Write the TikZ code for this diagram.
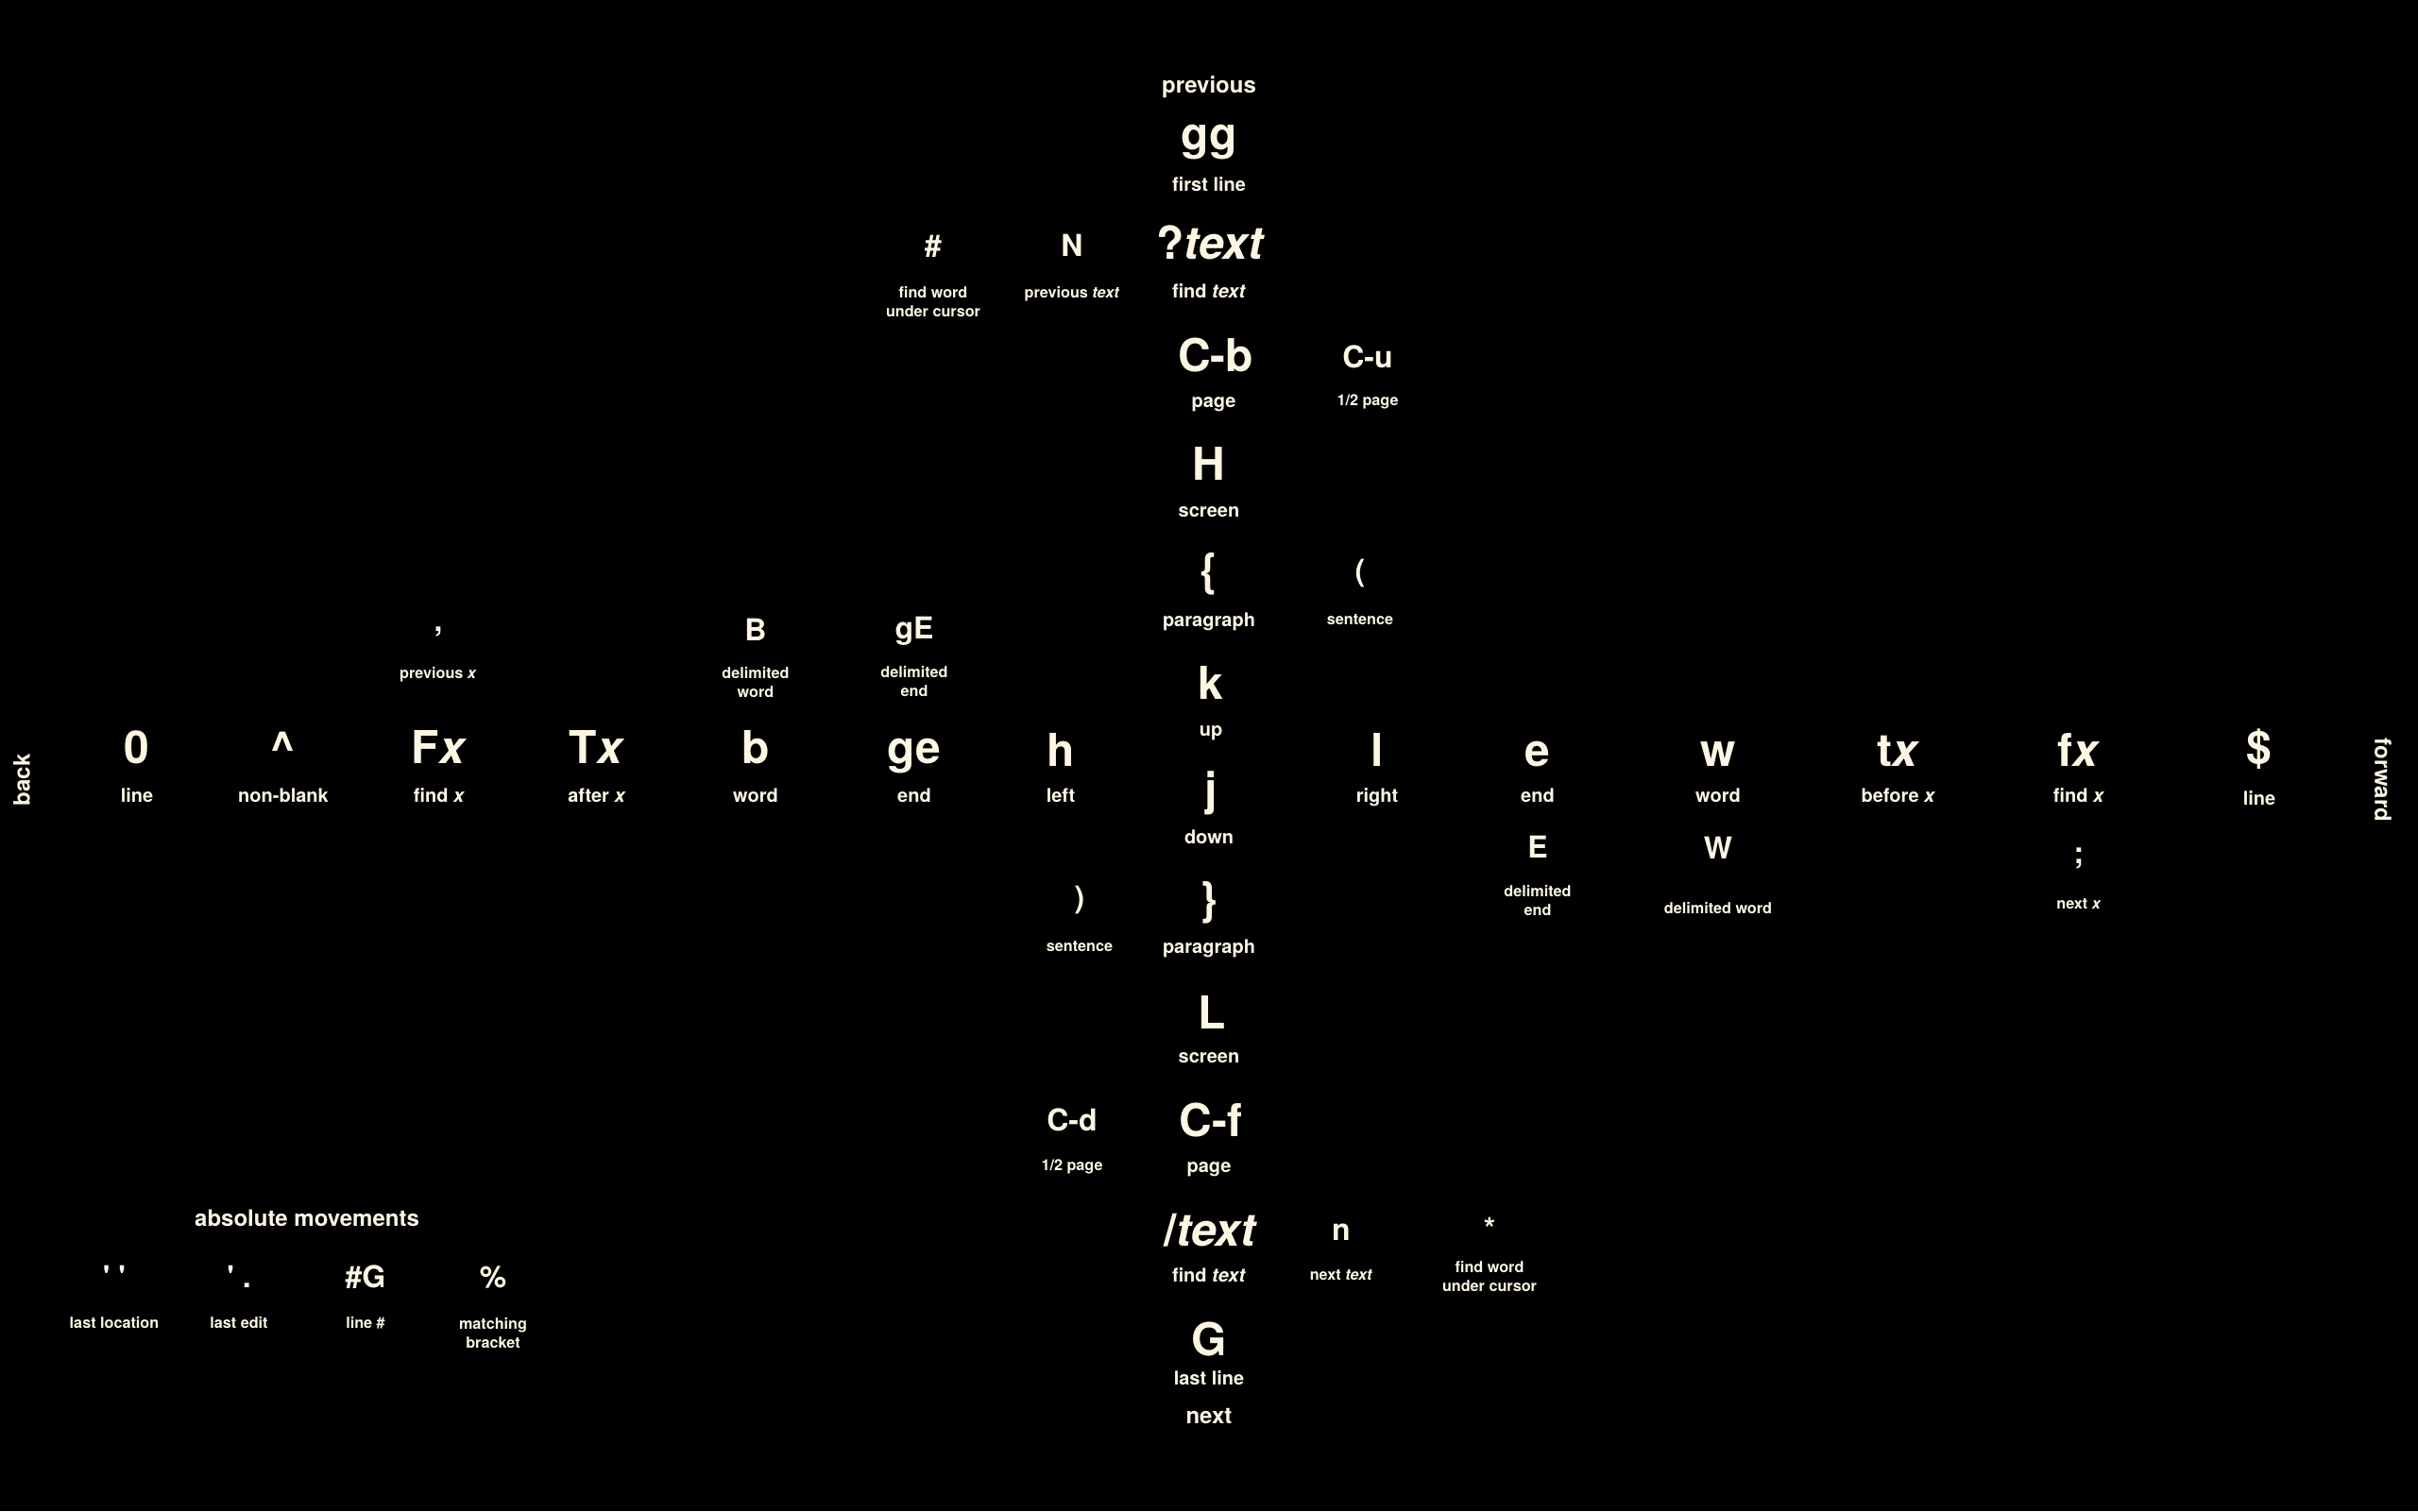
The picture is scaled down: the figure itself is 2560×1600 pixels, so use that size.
\documentclass[tikz,border=0pt]{standalone}
\usepackage{fontspec}
\setmainfont{TeX Gyre Heros}[Ligatures=TeXOff]
\definecolor{cream}{HTML}{FDF6E3}
\begin{document}
\begin{tikzpicture}[x=0.25pt,y=-0.25pt,
  every node/.style={text=cream, inner sep=0pt, anchor=base},
  bigkey/.style={font=\fontsize{12}{14}\selectfont\bfseries},
  medkey/.style={font=\fontsize{8}{10}\selectfont\bfseries},
  head/.style={font=\fontsize{6}{7.5}\selectfont\bfseries},
  lbl/.style={font=\fontsize{5}{6}\selectfont\bfseries},
  slbl/.style={font=\fontsize{4.05}{5}\selectfont\bfseries}]
\fill[black] (0,0) rectangle (2560,1600);
\useasboundingbox (0,0) rectangle (2560,1600);
% centre column
\node[head] (prev) at (1280,98) {previous};
\node[bigkey] (gg) at (1280,158) {gg};
\node[lbl] (ggl) at (1280,202) {first line};
\node[bigkey] (qt) at (1282,274) {?\textit{text}};
\node[lbl] (qtl) at (1280,315) {find \textit{text}};
\node[bigkey] (cb) at (1287,393) {C-b};
\node[lbl] (cbl) at (1285,431) {page};
\node[bigkey] (H) at (1280,508) {H};
\node[lbl] (Hl) at (1280,547) {screen};
\node[bigkey] (lbr) at (1280,620) {\{};
\node[lbl] (lbrl) at (1280,663) {paragraph};
\node[bigkey] (k) at (1282,740) {k};
\node[lbl] (kl) at (1282,779) {up};
\node[bigkey] (j) at (1282,852) {j};
\node[lbl] (jl) at (1280,893) {down};
\node[bigkey] (rbr) at (1280,968) {\}};
\node[lbl] (rbrl) at (1280,1009) {paragraph};
\node[bigkey] (L) at (1283,1089) {L};
\node[lbl] (Ll) at (1280,1125) {screen};
\node[bigkey] (cf) at (1282,1203) {C-f};
\node[lbl] (cfl) at (1280,1241) {page};
\node[bigkey] (sl) at (1282,1319) {/\textit{text}};
\node[lbl] (sll) at (1280,1357) {find \textit{text}};
\node[bigkey] (G) at (1280,1435) {G};
\node[lbl] (Gl) at (1280,1466) {last line};
\node[head] (next) at (1280,1507) {next};
% search / page neighbours
\node[medkey] (hash) at (988,271) {\#};
\node[slbl] (hashl) at (988,315) {find word};
\node[slbl] (hashl2) at (988,335) {under cursor};
\node[medkey] (N) at (1135,271) {N};
\node[slbl] (Nl) at (1135,315) {previous \textit{text}};
\node[medkey] (cu) at (1448,389) {C-u};
\node[slbl] (cul) at (1448,429) {1/2 page};
\node[medkey] (lp) at (1440,615) {(};
\node[slbl] (lpl) at (1440,661) {sentence};
\node[medkey] (rp) at (1143,961) {)};
\node[slbl] (rpl) at (1143,1007) {sentence};
\node[medkey] (cd) at (1135,1197) {C-d};
\node[slbl] (cdl) at (1135,1239) {1/2 page};
\node[medkey] (n) at (1420,1313) {n};
\node[slbl] (nl) at (1420,1355) {next \textit{text}};
\node[medkey] (star) at (1577,1312) {*};
\node[slbl] (starl) at (1577,1347) {find word};
\node[slbl] (starl2) at (1577,1367) {under cursor};
% main row
\node[head, rotate=90, anchor=center] (back) at (23,826) {back};
\node[head, rotate=-90, anchor=center] (fwd) at (2523,826) {forward};
\node[bigkey] (zero) at (145,808) {0};
\node[lbl] (zerol) at (145,849) {line};
\node[bigkey] (caret) at (300,808) {\textasciicircum};
\node[lbl] (caretl) at (300,849) {non-blank};
\node[bigkey] (Fx) at (465,808) {F\textit{x}};
\node[lbl] (Fxl) at (465,849) {find \textit{x}};
\node[medkey] (comma) at (464,668) {,};
\node[slbl] (commal) at (464,718) {previous \textit{x}};
\node[bigkey] (Tx) at (632,808) {T\textit{x}};
\node[lbl] (Txl) at (632,849) {after \textit{x}};
\node[bigkey] (b) at (800,808) {b};
\node[lbl] (bl) at (800,849) {word};
\node[medkey] (B) at (800,678) {B};
\node[slbl] (Bl) at (800,718) {delimited};
\node[slbl] (Bl2) at (800,738) {word};
\node[bigkey] (ge) at (968,808) {ge};
\node[lbl] (gel) at (968,849) {end};
\node[medkey] (gE) at (968,676) {gE};
\node[slbl] (gEl) at (968,717) {delimited};
\node[slbl] (gEl2) at (968,737) {end};
\node[bigkey] (h) at (1123,811) {h};
\node[lbl] (hl) at (1123,849) {left};
\node[bigkey] (l) at (1458,811) {l};
\node[lbl] (ll) at (1458,849) {right};
\node[bigkey] (e) at (1628,811) {e};
\node[lbl] (el) at (1628,849) {end};
\node[medkey] (E) at (1628,908) {E};
\node[slbl] (El) at (1628,949) {delimited};
\node[slbl] (El2) at (1628,969) {end};
\node[bigkey] (w) at (1819,811) {w};
\node[lbl] (wl) at (1819,849) {word};
\node[medkey] (W) at (1819,909) {W};
\node[slbl] (Wl) at (1819,967) {delimited word};
\node[bigkey] (tx) at (2010,811) {t\textit{x}};
\node[lbl] (txl) at (2010,849) {before \textit{x}};
\node[bigkey] (fx) at (2201,811) {f\textit{x}};
\node[lbl] (fxl) at (2201,849) {find \textit{x}};
\node[medkey] (semi) at (2201,914) {;};
\node[slbl] (semil) at (2201,962) {next \textit{x}};
\node[bigkey] (dollar) at (2392,808) {\$};
\node[lbl] (dollarl) at (2392,852) {line};
% absolute movements
\node[head] (abs) at (325,1298) {absolute movements};
\node[medkey] (qq) at (121,1363) {'~'};
\node[slbl] (qql) at (121,1406) {last location};
\node[medkey] (qd) at (253,1363) {'~.};
\node[slbl] (qdl) at (253,1406) {last edit};
\node[medkey] (hG) at (387,1363) {\#G};
\node[slbl] (hGl) at (387,1406) {line \#};
\node[medkey] (pct) at (522,1363) {\%};
\node[slbl] (pctl) at (522,1407) {matching};
\node[slbl] (pctl2) at (522,1427) {bracket};
\end{tikzpicture}
\end{document}
